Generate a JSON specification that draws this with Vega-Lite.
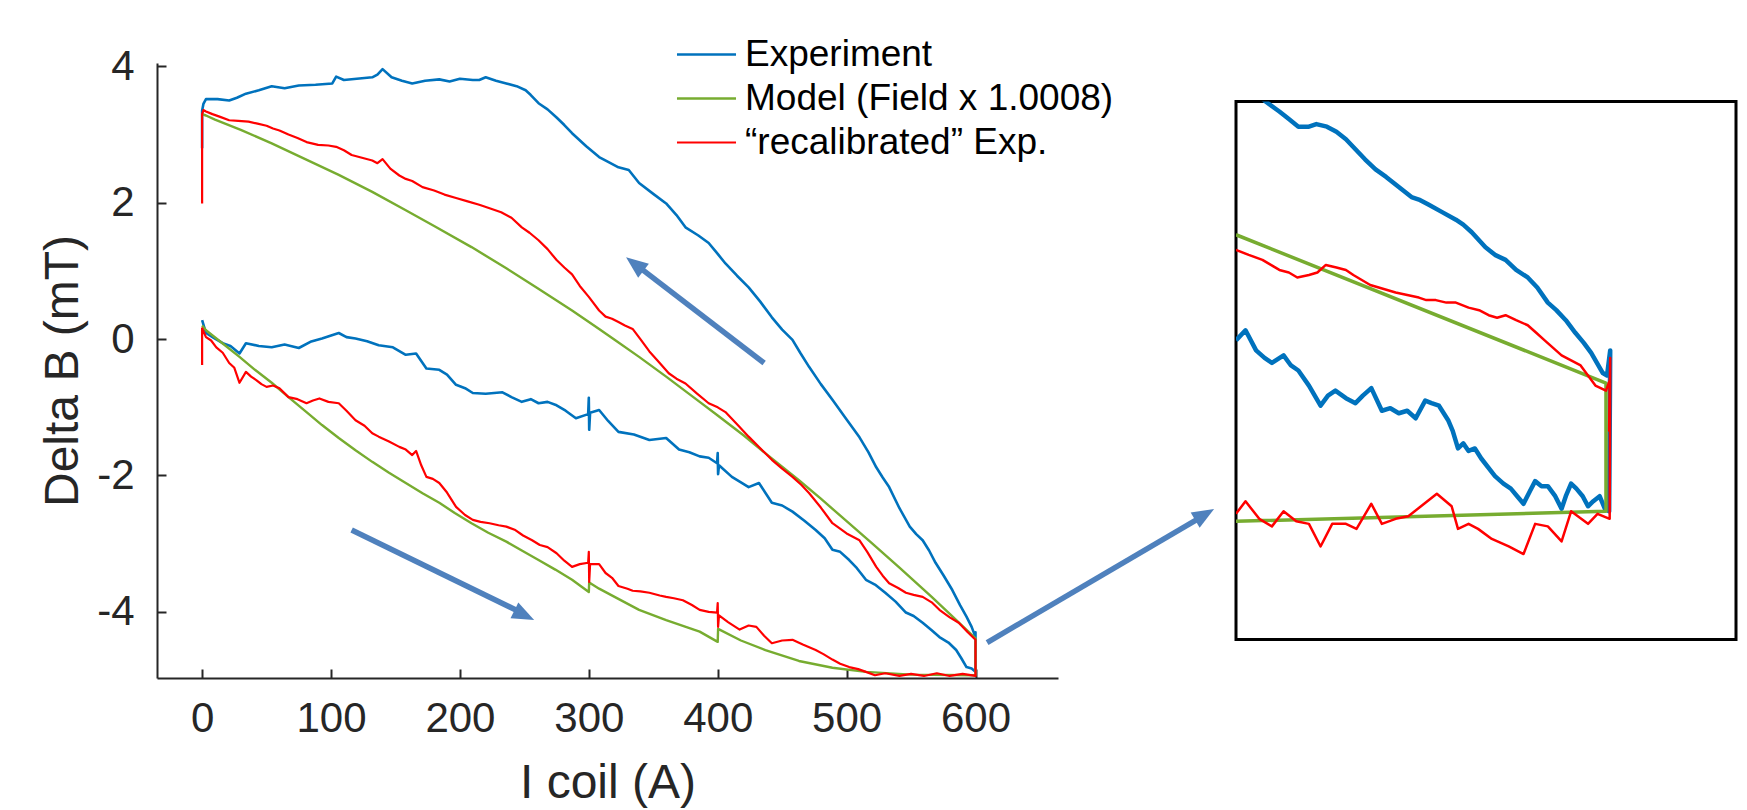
{
  "$schema": "https://vega.github.io/schema/vega-lite/v6.json",
  "background": "white",
  "padding": {"left": 39, "top": 29, "right": 5, "bottom": 5},
  "config": {
    "font": "Liberation Sans",
    "view": {"stroke": null},
    "axis": {"domainColor": "#262626", "domainWidth": 2, "tickColor": "#262626", "tickWidth": 2, "tickSize": -9, "labelColor": "#262626", "labelFontSize": 42, "labelFont": "Liberation Sans", "titleFont": "Liberation Sans", "titleFontSize": 48, "titleFontWeight": "normal", "titleColor": "#262626", "grid": false, "labelExpr": "'' + datum.value"}
  },
  "datasets": {
    "arrows": [
      {"a": 1, "I": 436, "B": -0.35, "p": "tail"}, {"a": 1, "I": 338, "B": 1.07, "p": "base"}, {"a": 1, "I": 328.9, "B": 1.2, "p": "tip"},
      {"a": 2, "I": 116, "B": -2.8, "p": "tail"}, {"a": 2, "I": 247.5, "B": -4.01, "p": "base"}, {"a": 2, "I": 257.6, "B": -4.12, "p": "tip"},
      {"a": 3, "I": 609, "B": -4.45, "p": "tail"}, {"a": 3, "I": 775, "B": -2.61, "p": "base"}, {"a": 3, "I": 785.1, "B": -2.49, "p": "tip"}
    ],
    "main": [
      {"s":"Experiment","I":0,"B":0.28},{"s":"Experiment","I":3,"B":0.09},{"s":"Experiment","I":9,"B":0.02},{"s":"Experiment","I":16,"B":-0.06},{"s":"Experiment","I":22,"B":-0.1},{"s":"Experiment","I":29,"B":-0.21},{"s":"Experiment","I":34,"B":-0.06},{"s":"Experiment","I":44,"B":-0.1},{"s":"Experiment","I":54,"B":-0.12},{"s":"Experiment","I":64,"B":-0.08},{"s":"Experiment","I":75,"B":-0.13},{"s":"Experiment","I":84,"B":-0.04},{"s":"Experiment","I":93,"B":0.01},{"s":"Experiment","I":106,"B":0.09},{"s":"Experiment","I":112,"B":0.03},{"s":"Experiment","I":119,"B":0.01},{"s":"Experiment","I":128,"B":-0.03},{"s":"Experiment","I":137,"B":-0.09},{"s":"Experiment","I":148,"B":-0.12},{"s":"Experiment","I":158,"B":-0.23},{"s":"Experiment","I":166,"B":-0.21},{"s":"Experiment","I":174,"B":-0.43},{"s":"Experiment","I":184,"B":-0.45},{"s":"Experiment","I":190,"B":-0.52},{"s":"Experiment","I":197,"B":-0.67},{"s":"Experiment","I":204,"B":-0.72},{"s":"Experiment","I":210,"B":-0.79},{"s":"Experiment","I":220,"B":-0.8},{"s":"Experiment","I":233,"B":-0.78},{"s":"Experiment","I":240,"B":-0.85},{"s":"Experiment","I":248,"B":-0.92},{"s":"Experiment","I":255,"B":-0.88},{"s":"Experiment","I":261,"B":-0.94},{"s":"Experiment","I":268,"B":-0.92},{"s":"Experiment","I":275,"B":-0.97},{"s":"Experiment","I":282,"B":-1.05},{"s":"Experiment","I":290,"B":-1.16},{"s":"Experiment","I":299.5,"B":-1.1},{"s":"Experiment","I":300,"B":-0.86},{"s":"Experiment","I":300.3,"B":-1.33},{"s":"Experiment","I":301,"B":-1.08},{"s":"Experiment","I":308,"B":-1.04},{"s":"Experiment","I":315,"B":-1.2},{"s":"Experiment","I":323,"B":-1.36},{"s":"Experiment","I":335,"B":-1.4},{"s":"Experiment","I":347,"B":-1.48},{"s":"Experiment","I":360,"B":-1.45},{"s":"Experiment","I":370,"B":-1.62},{"s":"Experiment","I":378,"B":-1.66},{"s":"Experiment","I":386,"B":-1.72},{"s":"Experiment","I":393,"B":-1.74},{"s":"Experiment","I":399.5,"B":-1.82},{"s":"Experiment","I":400,"B":-1.67},{"s":"Experiment","I":400.3,"B":-1.98},{"s":"Experiment","I":401,"B":-1.85},{"s":"Experiment","I":411,"B":-2.02},{"s":"Experiment","I":418,"B":-2.1},{"s":"Experiment","I":424,"B":-2.17},{"s":"Experiment","I":432,"B":-2.11},{"s":"Experiment","I":442,"B":-2.4},{"s":"Experiment","I":450,"B":-2.44},{"s":"Experiment","I":458,"B":-2.53},{"s":"Experiment","I":467,"B":-2.66},{"s":"Experiment","I":476,"B":-2.8},{"s":"Experiment","I":483,"B":-2.92},{"s":"Experiment","I":489,"B":-3.09},{"s":"Experiment","I":495,"B":-3.12},{"s":"Experiment","I":502,"B":-3.24},{"s":"Experiment","I":508,"B":-3.36},{"s":"Experiment","I":515,"B":-3.53},{"s":"Experiment","I":522,"B":-3.6},{"s":"Experiment","I":530,"B":-3.72},{"s":"Experiment","I":538,"B":-3.85},{"s":"Experiment","I":546,"B":-4.01},{"s":"Experiment","I":552,"B":-4.06},{"s":"Experiment","I":559,"B":-4.16},{"s":"Experiment","I":566,"B":-4.27},{"s":"Experiment","I":572,"B":-4.37},{"s":"Experiment","I":579,"B":-4.45},{"s":"Experiment","I":585,"B":-4.56},{"s":"Experiment","I":589,"B":-4.68},{"s":"Experiment","I":593,"B":-4.81},{"s":"Experiment","I":597,"B":-4.83},{"s":"Experiment","I":600,"B":-4.88},{"s":"Experiment","I":600,"B":-4.3},
      {"s":"Experiment","I":600,"B":-4.37},{"s":"Experiment","I":597,"B":-4.22},{"s":"Experiment","I":593,"B":-4.07},{"s":"Experiment","I":588,"B":-3.9},{"s":"Experiment","I":582,"B":-3.68},{"s":"Experiment","I":575,"B":-3.46},{"s":"Experiment","I":569,"B":-3.28},{"s":"Experiment","I":564,"B":-3.1},{"s":"Experiment","I":559,"B":-2.95},{"s":"Experiment","I":554,"B":-2.86},{"s":"Experiment","I":549,"B":-2.75},{"s":"Experiment","I":541,"B":-2.48},{"s":"Experiment","I":533,"B":-2.17},{"s":"Experiment","I":528,"B":-2.03},{"s":"Experiment","I":523,"B":-1.88},{"s":"Experiment","I":517,"B":-1.66},{"s":"Experiment","I":510,"B":-1.44},{"s":"Experiment","I":500,"B":-1.18},{"s":"Experiment","I":489,"B":-0.89},{"s":"Experiment","I":480,"B":-0.66},{"s":"Experiment","I":471,"B":-0.41},{"s":"Experiment","I":464,"B":-0.2},{"s":"Experiment","I":458,"B":-0.01},{"s":"Experiment","I":450,"B":0.14},{"s":"Experiment","I":442,"B":0.32},{"s":"Experiment","I":433,"B":0.55},{"s":"Experiment","I":424,"B":0.76},{"s":"Experiment","I":415,"B":0.93},{"s":"Experiment","I":406,"B":1.11},{"s":"Experiment","I":400,"B":1.25},{"s":"Experiment","I":393,"B":1.41},{"s":"Experiment","I":385,"B":1.52},{"s":"Experiment","I":375,"B":1.64},{"s":"Experiment","I":368,"B":1.82},{"s":"Experiment","I":360,"B":1.99},{"s":"Experiment","I":350,"B":2.13},{"s":"Experiment","I":339,"B":2.29},{"s":"Experiment","I":331,"B":2.48},{"s":"Experiment","I":323,"B":2.52},{"s":"Experiment","I":315,"B":2.6},{"s":"Experiment","I":308,"B":2.67},{"s":"Experiment","I":298,"B":2.83},{"s":"Experiment","I":287,"B":3.02},{"s":"Experiment","I":281,"B":3.14},{"s":"Experiment","I":275,"B":3.25},{"s":"Experiment","I":268,"B":3.37},{"s":"Experiment","I":261,"B":3.46},{"s":"Experiment","I":255,"B":3.58},{"s":"Experiment","I":251,"B":3.65},{"s":"Experiment","I":244,"B":3.71},{"s":"Experiment","I":236,"B":3.75},{"s":"Experiment","I":228,"B":3.79},{"s":"Experiment","I":220,"B":3.84},{"s":"Experiment","I":215,"B":3.8},{"s":"Experiment","I":210,"B":3.8},{"s":"Experiment","I":200,"B":3.82},{"s":"Experiment","I":192,"B":3.78},{"s":"Experiment","I":184,"B":3.81},{"s":"Experiment","I":173,"B":3.79},{"s":"Experiment","I":163,"B":3.75},{"s":"Experiment","I":155,"B":3.79},{"s":"Experiment","I":147,"B":3.84},{"s":"Experiment","I":140,"B":3.96},{"s":"Experiment","I":136,"B":3.88},{"s":"Experiment","I":132,"B":3.84},{"s":"Experiment","I":120,"B":3.82},{"s":"Experiment","I":110,"B":3.8},{"s":"Experiment","I":104,"B":3.85},{"s":"Experiment","I":101,"B":3.75},{"s":"Experiment","I":88,"B":3.73},{"s":"Experiment","I":75,"B":3.72},{"s":"Experiment","I":64,"B":3.68},{"s":"Experiment","I":54,"B":3.71},{"s":"Experiment","I":44,"B":3.65},{"s":"Experiment","I":34,"B":3.6},{"s":"Experiment","I":27,"B":3.54},{"s":"Experiment","I":21,"B":3.5},{"s":"Experiment","I":12,"B":3.52},{"s":"Experiment","I":3,"B":3.52},{"s":"Experiment","I":1,"B":3.45},{"s":"Experiment","I":0,"B":3.35},{"s":"Experiment","I":0,"B":2.8},
      {"s":"Model (Field x 1.0008)","I":0,"B":0.2},{"s":"Model (Field x 1.0008)","I":3,"B":0.13},{"s":"Model (Field x 1.0008)","I":15,"B":-0.05},{"s":"Model (Field x 1.0008)","I":29,"B":-0.26},{"s":"Model (Field x 1.0008)","I":41,"B":-0.45},{"s":"Model (Field x 1.0008)","I":54,"B":-0.64},{"s":"Model (Field x 1.0008)","I":67,"B":-0.85},{"s":"Model (Field x 1.0008)","I":81,"B":-1.07},{"s":"Model (Field x 1.0008)","I":93,"B":-1.26},{"s":"Model (Field x 1.0008)","I":106,"B":-1.45},{"s":"Model (Field x 1.0008)","I":119,"B":-1.63},{"s":"Model (Field x 1.0008)","I":132,"B":-1.8},{"s":"Model (Field x 1.0008)","I":145,"B":-1.96},{"s":"Model (Field x 1.0008)","I":158,"B":-2.11},{"s":"Model (Field x 1.0008)","I":171,"B":-2.26},{"s":"Model (Field x 1.0008)","I":184,"B":-2.4},{"s":"Model (Field x 1.0008)","I":196,"B":-2.55},{"s":"Model (Field x 1.0008)","I":209,"B":-2.7},{"s":"Model (Field x 1.0008)","I":222,"B":-2.84},{"s":"Model (Field x 1.0008)","I":236,"B":-2.97},{"s":"Model (Field x 1.0008)","I":248,"B":-3.1},{"s":"Model (Field x 1.0008)","I":261,"B":-3.24},{"s":"Model (Field x 1.0008)","I":274,"B":-3.38},{"s":"Model (Field x 1.0008)","I":287,"B":-3.53},{"s":"Model (Field x 1.0008)","I":300,"B":-3.71},{"s":"Model (Field x 1.0008)","I":300.3,"B":-3.57},{"s":"Model (Field x 1.0008)","I":308,"B":-3.66},{"s":"Model (Field x 1.0008)","I":320,"B":-3.78},{"s":"Model (Field x 1.0008)","I":339,"B":-3.97},{"s":"Model (Field x 1.0008)","I":360,"B":-4.12},{"s":"Model (Field x 1.0008)","I":386,"B":-4.29},{"s":"Model (Field x 1.0008)","I":400,"B":-4.44},{"s":"Model (Field x 1.0008)","I":400.3,"B":-4.25},{"s":"Model (Field x 1.0008)","I":418,"B":-4.42},{"s":"Model (Field x 1.0008)","I":437,"B":-4.56},{"s":"Model (Field x 1.0008)","I":463,"B":-4.72},{"s":"Model (Field x 1.0008)","I":489,"B":-4.82},{"s":"Model (Field x 1.0008)","I":515,"B":-4.88},{"s":"Model (Field x 1.0008)","I":550,"B":-4.92},{"s":"Model (Field x 1.0008)","I":600,"B":-4.93},
      {"s":"Model (Field x 1.0008)","I":600,"B":-4.39},{"s":"Model (Field x 1.0008)","I":580,"B":-4.03},{"s":"Model (Field x 1.0008)","I":566,"B":-3.78},{"s":"Model (Field x 1.0008)","I":541,"B":-3.35},{"s":"Model (Field x 1.0008)","I":520,"B":-3.0},{"s":"Model (Field x 1.0008)","I":500,"B":-2.67},{"s":"Model (Field x 1.0008)","I":480,"B":-2.34},{"s":"Model (Field x 1.0008)","I":463,"B":-2.07},{"s":"Model (Field x 1.0008)","I":440,"B":-1.72},{"s":"Model (Field x 1.0008)","I":420,"B":-1.41},{"s":"Model (Field x 1.0008)","I":400,"B":-1.12},{"s":"Model (Field x 1.0008)","I":386,"B":-0.92},{"s":"Model (Field x 1.0008)","I":360,"B":-0.55},{"s":"Model (Field x 1.0008)","I":339,"B":-0.26},{"s":"Model (Field x 1.0008)","I":320,"B":-0.01},{"s":"Model (Field x 1.0008)","I":308,"B":0.15},{"s":"Model (Field x 1.0008)","I":287,"B":0.42},{"s":"Model (Field x 1.0008)","I":260,"B":0.75},{"s":"Model (Field x 1.0008)","I":236,"B":1.04},{"s":"Model (Field x 1.0008)","I":209,"B":1.35},{"s":"Model (Field x 1.0008)","I":180,"B":1.66},{"s":"Model (Field x 1.0008)","I":158,"B":1.89},{"s":"Model (Field x 1.0008)","I":132,"B":2.16},{"s":"Model (Field x 1.0008)","I":106,"B":2.41},{"s":"Model (Field x 1.0008)","I":80,"B":2.64},{"s":"Model (Field x 1.0008)","I":54,"B":2.87},{"s":"Model (Field x 1.0008)","I":30,"B":3.07},{"s":"Model (Field x 1.0008)","I":10,"B":3.22},{"s":"Model (Field x 1.0008)","I":3,"B":3.28},{"s":"Model (Field x 1.0008)","I":0,"B":3.3},
      {"s":" “recalibrated” Exp.","I":0,"B":-0.38},{"s":" “recalibrated” Exp.","I":0,"B":0.16},{"s":" “recalibrated” Exp.","I":3,"B":0.03},{"s":" “recalibrated” Exp.","I":7,"B":-0.02},{"s":" “recalibrated” Exp.","I":11,"B":-0.12},{"s":" “recalibrated” Exp.","I":16,"B":-0.2},{"s":" “recalibrated” Exp.","I":21,"B":-0.35},{"s":" “recalibrated” Exp.","I":25,"B":-0.42},{"s":" “recalibrated” Exp.","I":29,"B":-0.64},{"s":" “recalibrated” Exp.","I":34,"B":-0.48},{"s":" “recalibrated” Exp.","I":38,"B":-0.55},{"s":" “recalibrated” Exp.","I":42,"B":-0.6},{"s":" “recalibrated” Exp.","I":46,"B":-0.66},{"s":" “recalibrated” Exp.","I":50,"B":-0.7},{"s":" “recalibrated” Exp.","I":55,"B":-0.68},{"s":" “recalibrated” Exp.","I":60,"B":-0.72},{"s":" “recalibrated” Exp.","I":67,"B":-0.85},{"s":" “recalibrated” Exp.","I":74,"B":-0.88},{"s":" “recalibrated” Exp.","I":81,"B":-0.94},{"s":" “recalibrated” Exp.","I":86,"B":-0.9},{"s":" “recalibrated” Exp.","I":91,"B":-0.87},{"s":" “recalibrated” Exp.","I":98,"B":-0.92},{"s":" “recalibrated” Exp.","I":106,"B":-0.94},{"s":" “recalibrated” Exp.","I":112,"B":-1.05},{"s":" “recalibrated” Exp.","I":119,"B":-1.19},{"s":" “recalibrated” Exp.","I":126,"B":-1.27},{"s":" “recalibrated” Exp.","I":132,"B":-1.38},{"s":" “recalibrated” Exp.","I":137,"B":-1.43},{"s":" “recalibrated” Exp.","I":145,"B":-1.5},{"s":" “recalibrated” Exp.","I":153,"B":-1.58},{"s":" “recalibrated” Exp.","I":158,"B":-1.62},{"s":" “recalibrated” Exp.","I":163,"B":-1.7},{"s":" “recalibrated” Exp.","I":166,"B":-1.64},{"s":" “recalibrated” Exp.","I":170,"B":-1.85},{"s":" “recalibrated” Exp.","I":174,"B":-2.02},{"s":" “recalibrated” Exp.","I":179,"B":-2.05},{"s":" “recalibrated” Exp.","I":184,"B":-2.11},{"s":" “recalibrated” Exp.","I":190,"B":-2.25},{"s":" “recalibrated” Exp.","I":197,"B":-2.46},{"s":" “recalibrated” Exp.","I":204,"B":-2.58},{"s":" “recalibrated” Exp.","I":210,"B":-2.65},{"s":" “recalibrated” Exp.","I":216,"B":-2.68},{"s":" “recalibrated” Exp.","I":223,"B":-2.7},{"s":" “recalibrated” Exp.","I":230,"B":-2.73},{"s":" “recalibrated” Exp.","I":236,"B":-2.75},{"s":" “recalibrated” Exp.","I":243,"B":-2.8},{"s":" “recalibrated” Exp.","I":249,"B":-2.88},{"s":" “recalibrated” Exp.","I":256,"B":-2.95},{"s":" “recalibrated” Exp.","I":262,"B":-3.02},{"s":" “recalibrated” Exp.","I":268,"B":-3.05},{"s":" “recalibrated” Exp.","I":275,"B":-3.14},{"s":" “recalibrated” Exp.","I":281,"B":-3.25},{"s":" “recalibrated” Exp.","I":287,"B":-3.34},{"s":" “recalibrated” Exp.","I":293,"B":-3.3},{"s":" “recalibrated” Exp.","I":299.5,"B":-3.28},{"s":" “recalibrated” Exp.","I":300,"B":-3.12},{"s":" “recalibrated” Exp.","I":300.3,"B":-3.56},{"s":" “recalibrated” Exp.","I":301,"B":-3.3},{"s":" “recalibrated” Exp.","I":308,"B":-3.3},{"s":" “recalibrated” Exp.","I":313,"B":-3.43},{"s":" “recalibrated” Exp.","I":318,"B":-3.5},{"s":" “recalibrated” Exp.","I":323,"B":-3.62},{"s":" “recalibrated” Exp.","I":330,"B":-3.66},{"s":" “recalibrated” Exp.","I":334,"B":-3.69},{"s":" “recalibrated” Exp.","I":340,"B":-3.7},{"s":" “recalibrated” Exp.","I":347,"B":-3.72},{"s":" “recalibrated” Exp.","I":355,"B":-3.76},{"s":" “recalibrated” Exp.","I":360,"B":-3.78},{"s":" “recalibrated” Exp.","I":366,"B":-3.8},{"s":" “recalibrated” Exp.","I":373,"B":-3.83},{"s":" “recalibrated” Exp.","I":380,"B":-3.9},{"s":" “recalibrated” Exp.","I":386,"B":-3.97},{"s":" “recalibrated” Exp.","I":393,"B":-4.0},{"s":" “recalibrated” Exp.","I":399.5,"B":-4.01},{"s":" “recalibrated” Exp.","I":400,"B":-3.87},{"s":" “recalibrated” Exp.","I":400.3,"B":-4.22},{"s":" “recalibrated” Exp.","I":401,"B":-4.05},{"s":" “recalibrated” Exp.","I":408,"B":-4.15},{"s":" “recalibrated” Exp.","I":417,"B":-4.26},{"s":" “recalibrated” Exp.","I":424,"B":-4.2},{"s":" “recalibrated” Exp.","I":430,"B":-4.22},{"s":" “recalibrated” Exp.","I":436,"B":-4.35},{"s":" “recalibrated” Exp.","I":442,"B":-4.46},{"s":" “recalibrated” Exp.","I":450,"B":-4.42},{"s":" “recalibrated” Exp.","I":458,"B":-4.41},{"s":" “recalibrated” Exp.","I":466,"B":-4.48},{"s":" “recalibrated” Exp.","I":476,"B":-4.56},{"s":" “recalibrated” Exp.","I":482,"B":-4.62},{"s":" “recalibrated” Exp.","I":489,"B":-4.7},{"s":" “recalibrated” Exp.","I":495,"B":-4.76},{"s":" “recalibrated” Exp.","I":502,"B":-4.81},{"s":" “recalibrated” Exp.","I":509,"B":-4.84},{"s":" “recalibrated” Exp.","I":515,"B":-4.88},{"s":" “recalibrated” Exp.","I":522,"B":-4.93},{"s":" “recalibrated” Exp.","I":530,"B":-4.9},{"s":" “recalibrated” Exp.","I":541,"B":-4.94},{"s":" “recalibrated” Exp.","I":550,"B":-4.91},{"s":" “recalibrated” Exp.","I":560,"B":-4.94},{"s":" “recalibrated” Exp.","I":570,"B":-4.9},{"s":" “recalibrated” Exp.","I":580,"B":-4.94},{"s":" “recalibrated” Exp.","I":590,"B":-4.91},{"s":" “recalibrated” Exp.","I":600,"B":-4.94},
      {"s":" “recalibrated” Exp.","I":600,"B":-4.41},{"s":" “recalibrated” Exp.","I":594,"B":-4.3},{"s":" “recalibrated” Exp.","I":587,"B":-4.16},{"s":" “recalibrated” Exp.","I":580,"B":-4.08},{"s":" “recalibrated” Exp.","I":572,"B":-3.97},{"s":" “recalibrated” Exp.","I":566,"B":-3.86},{"s":" “recalibrated” Exp.","I":559,"B":-3.78},{"s":" “recalibrated” Exp.","I":552,"B":-3.75},{"s":" “recalibrated” Exp.","I":546,"B":-3.72},{"s":" “recalibrated” Exp.","I":540,"B":-3.65},{"s":" “recalibrated” Exp.","I":533,"B":-3.58},{"s":" “recalibrated” Exp.","I":528,"B":-3.47},{"s":" “recalibrated” Exp.","I":523,"B":-3.34},{"s":" “recalibrated” Exp.","I":516,"B":-3.12},{"s":" “recalibrated” Exp.","I":510,"B":-2.95},{"s":" “recalibrated” Exp.","I":500,"B":-2.85},{"s":" “recalibrated” Exp.","I":489,"B":-2.7},{"s":" “recalibrated” Exp.","I":480,"B":-2.47},{"s":" “recalibrated” Exp.","I":471,"B":-2.26},{"s":" “recalibrated” Exp.","I":465,"B":-2.14},{"s":" “recalibrated” Exp.","I":458,"B":-2.02},{"s":" “recalibrated” Exp.","I":450,"B":-1.9},{"s":" “recalibrated” Exp.","I":442,"B":-1.77},{"s":" “recalibrated” Exp.","I":433,"B":-1.6},{"s":" “recalibrated” Exp.","I":424,"B":-1.43},{"s":" “recalibrated” Exp.","I":415,"B":-1.25},{"s":" “recalibrated” Exp.","I":406,"B":-1.07},{"s":" “recalibrated” Exp.","I":400,"B":-1.0},{"s":" “recalibrated” Exp.","I":393,"B":-0.94},{"s":" “recalibrated” Exp.","I":384,"B":-0.8},{"s":" “recalibrated” Exp.","I":375,"B":-0.65},{"s":" “recalibrated” Exp.","I":368,"B":-0.58},{"s":" “recalibrated” Exp.","I":362,"B":-0.5},{"s":" “recalibrated” Exp.","I":355,"B":-0.35},{"s":" “recalibrated” Exp.","I":347,"B":-0.18},{"s":" “recalibrated” Exp.","I":340,"B":0.0},{"s":" “recalibrated” Exp.","I":334,"B":0.15},{"s":" “recalibrated” Exp.","I":328,"B":0.2},{"s":" “recalibrated” Exp.","I":323,"B":0.25},{"s":" “recalibrated” Exp.","I":318,"B":0.3},{"s":" “recalibrated” Exp.","I":313,"B":0.33},{"s":" “recalibrated” Exp.","I":308,"B":0.42},{"s":" “recalibrated” Exp.","I":300,"B":0.62},{"s":" “recalibrated” Exp.","I":293,"B":0.78},{"s":" “recalibrated” Exp.","I":287,"B":0.95},{"s":" “recalibrated” Exp.","I":281,"B":1.05},{"s":" “recalibrated” Exp.","I":275,"B":1.16},{"s":" “recalibrated” Exp.","I":268,"B":1.32},{"s":" “recalibrated” Exp.","I":261,"B":1.45},{"s":" “recalibrated” Exp.","I":254,"B":1.56},{"s":" “recalibrated” Exp.","I":248,"B":1.64},{"s":" “recalibrated” Exp.","I":240,"B":1.78},{"s":" “recalibrated” Exp.","I":232,"B":1.86},{"s":" “recalibrated” Exp.","I":223,"B":1.92},{"s":" “recalibrated” Exp.","I":215,"B":1.97},{"s":" “recalibrated” Exp.","I":206,"B":2.02},{"s":" “recalibrated” Exp.","I":197,"B":2.07},{"s":" “recalibrated” Exp.","I":188,"B":2.12},{"s":" “recalibrated” Exp.","I":180,"B":2.18},{"s":" “recalibrated” Exp.","I":171,"B":2.23},{"s":" “recalibrated” Exp.","I":163,"B":2.32},{"s":" “recalibrated” Exp.","I":158,"B":2.35},{"s":" “recalibrated” Exp.","I":153,"B":2.4},{"s":" “recalibrated” Exp.","I":146,"B":2.5},{"s":" “recalibrated” Exp.","I":140,"B":2.64},{"s":" “recalibrated” Exp.","I":136,"B":2.58},{"s":" “recalibrated” Exp.","I":132,"B":2.62},{"s":" “recalibrated” Exp.","I":124,"B":2.66},{"s":" “recalibrated” Exp.","I":116,"B":2.7},{"s":" “recalibrated” Exp.","I":110,"B":2.77},{"s":" “recalibrated” Exp.","I":104,"B":2.82},{"s":" “recalibrated” Exp.","I":98,"B":2.84},{"s":" “recalibrated” Exp.","I":90,"B":2.85},{"s":" “recalibrated” Exp.","I":81,"B":2.89},{"s":" “recalibrated” Exp.","I":74,"B":2.95},{"s":" “recalibrated” Exp.","I":67,"B":3.0},{"s":" “recalibrated” Exp.","I":60,"B":3.06},{"s":" “recalibrated” Exp.","I":55,"B":3.09},{"s":" “recalibrated” Exp.","I":50,"B":3.13},{"s":" “recalibrated” Exp.","I":43,"B":3.16},{"s":" “recalibrated” Exp.","I":36,"B":3.19},{"s":" “recalibrated” Exp.","I":28,"B":3.2},{"s":" “recalibrated” Exp.","I":21,"B":3.21},{"s":" “recalibrated” Exp.","I":14,"B":3.26},{"s":" “recalibrated” Exp.","I":8,"B":3.3},{"s":" “recalibrated” Exp.","I":3,"B":3.34},{"s":" “recalibrated” Exp.","I":1,"B":3.36},{"s":" “recalibrated” Exp.","I":0,"B":3.3},{"s":" “recalibrated” Exp.","I":0,"B":1.99}
    ],
    "inset": [
      {"s":"Experiment","I":565,"B":-4.24},{"s":"Experiment","I":565.9,"B":-4.2},{"s":"Experiment","I":566.9,"B":-4.28},{"s":"Experiment","I":567.7,"B":-4.31},{"s":"Experiment","I":568.4,"B":-4.33},{"s":"Experiment","I":569.5,"B":-4.3},{"s":"Experiment","I":570.2,"B":-4.34},{"s":"Experiment","I":570.9,"B":-4.36},{"s":"Experiment","I":571.9,"B":-4.42},{"s":"Experiment","I":573,"B":-4.5},{"s":"Experiment","I":573.7,"B":-4.46},{"s":"Experiment","I":574.4,"B":-4.44},{"s":"Experiment","I":575.4,"B":-4.47},{"s":"Experiment","I":576.3,"B":-4.49},{"s":"Experiment","I":577,"B":-4.46},{"s":"Experiment","I":577.8,"B":-4.43},{"s":"Experiment","I":578.8,"B":-4.52},{"s":"Experiment","I":579.6,"B":-4.51},{"s":"Experiment","I":580.4,"B":-4.53},{"s":"Experiment","I":581.2,"B":-4.52},{"s":"Experiment","I":582,"B":-4.55},{"s":"Experiment","I":582.9,"B":-4.48},{"s":"Experiment","I":583.5,"B":-4.49},{"s":"Experiment","I":584.2,"B":-4.5},{"s":"Experiment","I":585.1,"B":-4.56},{"s":"Experiment","I":585.5,"B":-4.6},{"s":"Experiment","I":586,"B":-4.67},{"s":"Experiment","I":586.5,"B":-4.65},{"s":"Experiment","I":587,"B":-4.68},{"s":"Experiment","I":587.6,"B":-4.67},{"s":"Experiment","I":588.2,"B":-4.71},{"s":"Experiment","I":589.5,"B":-4.78},{"s":"Experiment","I":590.3,"B":-4.81},{"s":"Experiment","I":591,"B":-4.83},{"s":"Experiment","I":591.6,"B":-4.86},{"s":"Experiment","I":592.2,"B":-4.89},{"s":"Experiment","I":592.8,"B":-4.84},{"s":"Experiment","I":593.3,"B":-4.8},{"s":"Experiment","I":593.9,"B":-4.82},{"s":"Experiment","I":594.5,"B":-4.82},{"s":"Experiment","I":595.2,"B":-4.86},{"s":"Experiment","I":595.8,"B":-4.91},{"s":"Experiment","I":596.2,"B":-4.86},{"s":"Experiment","I":596.7,"B":-4.81},{"s":"Experiment","I":597.2,"B":-4.83},{"s":"Experiment","I":597.8,"B":-4.86},{"s":"Experiment","I":598.3,"B":-4.9},{"s":"Experiment","I":598.8,"B":-4.88},{"s":"Experiment","I":599.4,"B":-4.86},{"s":"Experiment","I":599.9,"B":-4.91},{"s":"Experiment","I":600.3,"B":-4.92},{"s":"Experiment","I":600.4,"B":-4.28},{"s":"Experiment","I":600.1,"B":-4.38},
      {"s":"Experiment","I":599.7,"B":-4.37},{"s":"Experiment","I":598.6,"B":-4.29},{"s":"Experiment","I":597.9,"B":-4.25},{"s":"Experiment","I":597.1,"B":-4.21},{"s":"Experiment","I":596.2,"B":-4.16},{"s":"Experiment","I":595.3,"B":-4.12},{"s":"Experiment","I":594.5,"B":-4.09},{"s":"Experiment","I":593.5,"B":-4.03},{"s":"Experiment","I":592.6,"B":-3.99},{"s":"Experiment","I":591.5,"B":-3.96},{"s":"Experiment","I":590.5,"B":-3.92},{"s":"Experiment","I":589.5,"B":-3.9},{"s":"Experiment","I":588.6,"B":-3.87},{"s":"Experiment","I":587.3,"B":-3.81},{"s":"Experiment","I":586.5,"B":-3.78},{"s":"Experiment","I":585.8,"B":-3.76},{"s":"Experiment","I":584.5,"B":-3.73},{"s":"Experiment","I":583.2,"B":-3.7},{"s":"Experiment","I":582.3,"B":-3.68},{"s":"Experiment","I":581.6,"B":-3.67},{"s":"Experiment","I":580.7,"B":-3.64},{"s":"Experiment","I":579.2,"B":-3.59},{"s":"Experiment","I":578.2,"B":-3.56},{"s":"Experiment","I":577.2,"B":-3.52},{"s":"Experiment","I":576.3,"B":-3.48},{"s":"Experiment","I":575.4,"B":-3.44},{"s":"Experiment","I":574.5,"B":-3.41},{"s":"Experiment","I":573.6,"B":-3.39},{"s":"Experiment","I":572.6,"B":-3.38},{"s":"Experiment","I":571.9,"B":-3.39},{"s":"Experiment","I":570.9,"B":-3.39},{"s":"Experiment","I":570,"B":-3.36},{"s":"Experiment","I":569.1,"B":-3.33},{"s":"Experiment","I":567.8,"B":-3.29},{"s":"Experiment","I":566.5,"B":-3.24},
      {"s":"Model (Field x 1.0008)","I":565,"B":-4.96},{"s":"Model (Field x 1.0008)","I":600,"B":-4.92},{"s":"Model (Field x 1.0008)","I":600,"B":-4.41},{"s":"Model (Field x 1.0008)","I":565,"B":-3.82},
      {"s":" “recalibrated” Exp.","I":565,"B":-4.93},{"s":" “recalibrated” Exp.","I":565.9,"B":-4.88},{"s":" “recalibrated” Exp.","I":567.2,"B":-4.95},{"s":" “recalibrated” Exp.","I":568.4,"B":-4.98},{"s":" “recalibrated” Exp.","I":569.5,"B":-4.92},{"s":" “recalibrated” Exp.","I":570.7,"B":-4.96},{"s":" “recalibrated” Exp.","I":571.9,"B":-4.97},{"s":" “recalibrated” Exp.","I":573,"B":-5.06},{"s":" “recalibrated” Exp.","I":574.1,"B":-4.97},{"s":" “recalibrated” Exp.","I":575.4,"B":-4.97},{"s":" “recalibrated” Exp.","I":576.4,"B":-4.99},{"s":" “recalibrated” Exp.","I":577.8,"B":-4.89},{"s":" “recalibrated” Exp.","I":578.8,"B":-4.97},{"s":" “recalibrated” Exp.","I":580.1,"B":-4.95},{"s":" “recalibrated” Exp.","I":581.3,"B":-4.94},{"s":" “recalibrated” Exp.","I":582.5,"B":-4.9},{"s":" “recalibrated” Exp.","I":584,"B":-4.85},{"s":" “recalibrated” Exp.","I":585.4,"B":-4.9},{"s":" “recalibrated” Exp.","I":586,"B":-4.99},{"s":" “recalibrated” Exp.","I":587,"B":-4.97},{"s":" “recalibrated” Exp.","I":587.9,"B":-4.99},{"s":" “recalibrated” Exp.","I":589.2,"B":-5.03},{"s":" “recalibrated” Exp.","I":590.8,"B":-5.06},{"s":" “recalibrated” Exp.","I":592.2,"B":-5.09},{"s":" “recalibrated” Exp.","I":593.3,"B":-4.97},{"s":" “recalibrated” Exp.","I":594.5,"B":-4.98},{"s":" “recalibrated” Exp.","I":595.8,"B":-5.04},{"s":" “recalibrated” Exp.","I":596.7,"B":-4.92},{"s":" “recalibrated” Exp.","I":598.3,"B":-4.97},{"s":" “recalibrated” Exp.","I":599.2,"B":-4.93},{"s":" “recalibrated” Exp.","I":600.35,"B":-4.95},{"s":" “recalibrated” Exp.","I":600.4,"B":-4.31},{"s":" “recalibrated” Exp.","I":600.3,"B":-4.6},{"s":" “recalibrated” Exp.","I":600.35,"B":-4.4},
      {"s":" “recalibrated” Exp.","I":600,"B":-4.44},{"s":" “recalibrated” Exp.","I":599,"B":-4.42},{"s":" “recalibrated” Exp.","I":598.3,"B":-4.38},{"s":" “recalibrated” Exp.","I":597.6,"B":-4.34},{"s":" “recalibrated” Exp.","I":596.7,"B":-4.32},{"s":" “recalibrated” Exp.","I":595.8,"B":-4.3},{"s":" “recalibrated” Exp.","I":595,"B":-4.27},{"s":" “recalibrated” Exp.","I":594.2,"B":-4.24},{"s":" “recalibrated” Exp.","I":593.4,"B":-4.21},{"s":" “recalibrated” Exp.","I":592.6,"B":-4.18},{"s":" “recalibrated” Exp.","I":591.5,"B":-4.16},{"s":" “recalibrated” Exp.","I":590.5,"B":-4.14},{"s":" “recalibrated” Exp.","I":589.7,"B":-4.15},{"s":" “recalibrated” Exp.","I":588.9,"B":-4.14},{"s":" “recalibrated” Exp.","I":588,"B":-4.12},{"s":" “recalibrated” Exp.","I":587,"B":-4.11},{"s":" “recalibrated” Exp.","I":586.4,"B":-4.1},{"s":" “recalibrated” Exp.","I":585.8,"B":-4.09},{"s":" “recalibrated” Exp.","I":584.9,"B":-4.09},{"s":" “recalibrated” Exp.","I":583.9,"B":-4.08},{"s":" “recalibrated” Exp.","I":583,"B":-4.08},{"s":" “recalibrated” Exp.","I":582.3,"B":-4.07},{"s":" “recalibrated” Exp.","I":581.2,"B":-4.06},{"s":" “recalibrated” Exp.","I":580.1,"B":-4.05},{"s":" “recalibrated” Exp.","I":579.3,"B":-4.04},{"s":" “recalibrated” Exp.","I":578.5,"B":-4.03},{"s":" “recalibrated” Exp.","I":577.7,"B":-4.02},{"s":" “recalibrated” Exp.","I":576.9,"B":-4.0},{"s":" “recalibrated” Exp.","I":576.1,"B":-3.98},{"s":" “recalibrated” Exp.","I":575.4,"B":-3.96},{"s":" “recalibrated” Exp.","I":574.5,"B":-3.95},{"s":" “recalibrated” Exp.","I":573.5,"B":-3.94},{"s":" “recalibrated” Exp.","I":572.7,"B":-3.97},{"s":" “recalibrated” Exp.","I":571.9,"B":-3.98},{"s":" “recalibrated” Exp.","I":570.8,"B":-3.99},{"s":" “recalibrated” Exp.","I":570,"B":-3.97},{"s":" “recalibrated” Exp.","I":569.1,"B":-3.96},{"s":" “recalibrated” Exp.","I":568.3,"B":-3.94},{"s":" “recalibrated” Exp.","I":567.5,"B":-3.92},{"s":" “recalibrated” Exp.","I":566.2,"B":-3.9},{"s":" “recalibrated” Exp.","I":565,"B":-3.88}
    ]
  },
  "hconcat": [
    {
      "width": 901,
      "height": 615,
      "layer": [
        {
          "data": {"name": "main"},
          "mark": {"type": "line", "strokeJoin": "round"},
          "encoding": {
            "x": {"field": "I", "type": "quantitative", "scale": {"domain": [-35, 664], "nice": false, "zero": false}, "axis": {"values": [0, 100, 200, 300, 400, 500, 600], "title": "I coil (A)", "labelPadding": 29, "titlePadding": 20}},
            "y": {"field": "B", "type": "quantitative", "scale": {"domain": [-4.97, 4.05], "nice": false, "zero": false}, "axis": {"values": [-4, -2, 0, 2, 4], "title": "Delta B (mT)", "labelPadding": 32, "titlePadding": 9}},
            "color": {"field": "s", "type": "nominal", "scale": {"domain": ["Experiment", "Model (Field x 1.0008)", " “recalibrated” Exp."], "range": ["#0072BD", "#77AC30", "#FF0000"]},
              "legend": {"orient": "none", "legendX": 524, "legendY": -34, "title": null, "symbolType": "M-1.23,0H1.23", "symbolSize": 2304, "symbolStrokeWidth": 2.5, "labelFontSize": 37, "labelFont": "Liberation Sans", "labelColor": "black", "labelOffset": 13, "labelLimit": 0, "rowPadding": 0, "padding": 0}},
            "strokeWidth": {"field": "s", "type": "nominal", "scale": {"domain": ["Experiment", "Model (Field x 1.0008)", " “recalibrated” Exp."], "range": [2.6, 2.2, 1.3]}, "legend": null},
            "order": {"value": null}
          }
        },
        {
          "data": {"name": "arrows"},
          "transform": [{"filter": "datum.p != 'tip'"}],
          "mark": {"type": "line", "color": "#4F81BD", "strokeWidth": 5.5, "strokeCap": "butt"},
          "encoding": {"x": {"field": "I", "type": "quantitative"}, "y": {"field": "B", "type": "quantitative"}, "detail": {"field": "a"}}
        },
        {
          "data": {"name": "arrows"},
          "transform": [{"filter": "datum.p == 'tip' && datum.a == 1"}],
          "mark": {"type": "point", "shape": "M0,0L-0.8,2L0.8,2Z", "filled": true, "color": "#4F81BD", "opacity": 1, "size": 484, "angle": 307.5},
          "encoding": {"x": {"field": "I", "type": "quantitative"}, "y": {"field": "B", "type": "quantitative"}}
        },
        {
          "data": {"name": "arrows"},
          "transform": [{"filter": "datum.p == 'tip' && datum.a == 2"}],
          "mark": {"type": "point", "shape": "M0,0L-0.8,2L0.8,2Z", "filled": true, "color": "#4F81BD", "opacity": 1, "size": 484, "angle": 116.3},
          "encoding": {"x": {"field": "I", "type": "quantitative"}, "y": {"field": "B", "type": "quantitative"}}
        },
        {
          "data": {"name": "arrows"},
          "transform": [{"filter": "datum.p == 'tip' && datum.a == 3"}],
          "mark": {"type": "point", "shape": "M0,0L-0.8,2L0.8,2Z", "filled": true, "color": "#4F81BD", "opacity": 1, "size": 484, "angle": 59.4},
          "encoding": {"x": {"field": "I", "type": "quantitative"}, "y": {"field": "B", "type": "quantitative"}}
        }
      ]
    },
    {
      "width": 500,
      "height": 538,
      "view": {"stroke": "black", "strokeWidth": 3, "fill": "white"},
      "data": {"name": "inset"},
      "mark": {"type": "line", "clip": true, "strokeJoin": "round"},
      "encoding": {
        "x": {"field": "I", "type": "quantitative", "scale": {"domain": [565, 612.3], "nice": false, "zero": false}, "axis": null},
        "y": {"field": "B", "type": "quantitative", "scale": {"domain": [-5.43, -3.29], "nice": false, "zero": false}, "axis": null},
        "color": {"field": "s", "type": "nominal", "scale": {"domain": ["Experiment", "Model (Field x 1.0008)", " “recalibrated” Exp."], "range": ["#0072BD", "#77AC30", "#FF0000"]}, "legend": null},
        "strokeWidth": {"field": "s", "type": "nominal", "scale": {"domain": ["Experiment", "Model (Field x 1.0008)", " “recalibrated” Exp."], "range": [4.5, 2.5, 2.5]}, "legend": null},
        "order": {"value": null}
      }
    }
  ],
  "spacing": 178,
  "bounds": "flush",
  "center": true,
  "resolve": {"scale": {"x": "independent", "y": "independent", "color": "independent", "strokeWidth": "independent"}}
}
